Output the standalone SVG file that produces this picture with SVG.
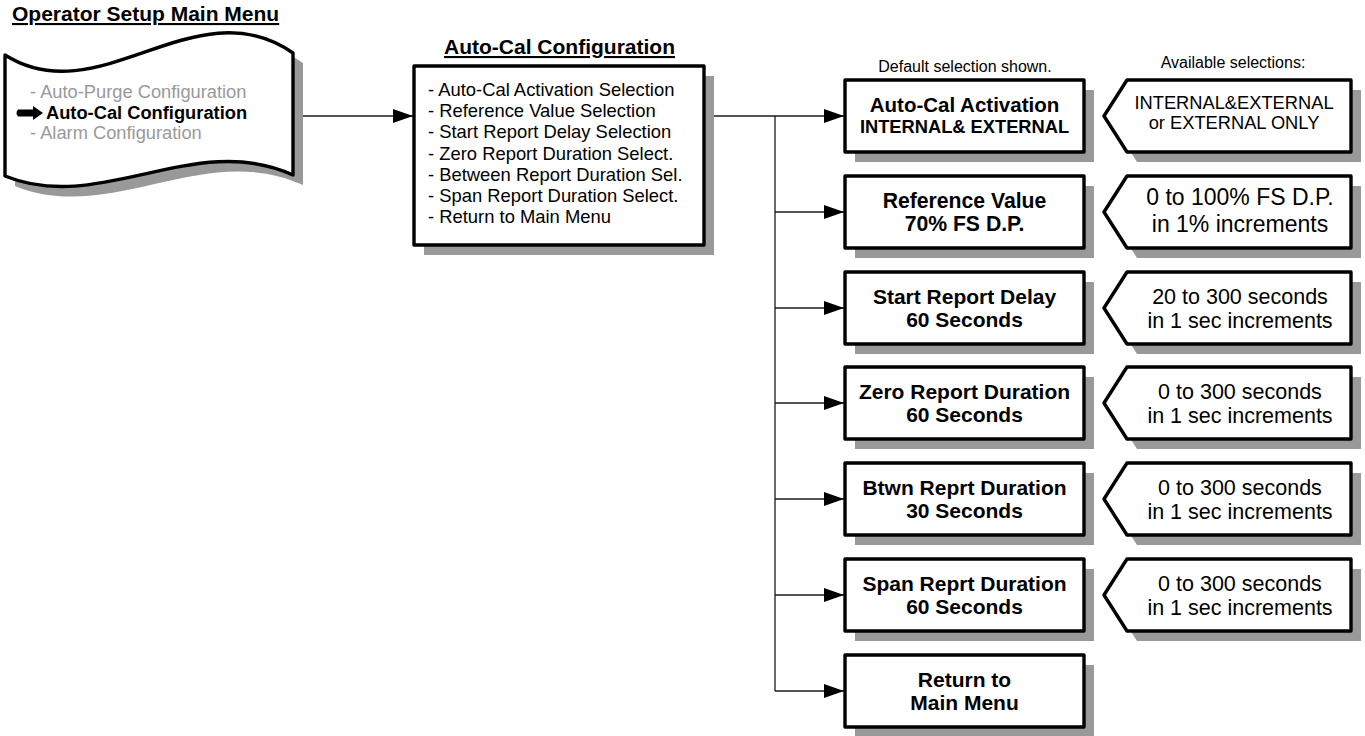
<svg xmlns="http://www.w3.org/2000/svg" width="1365" height="736" viewBox="0 0 1365 736">
<defs>
<style>
.t{font-family:"Liberation Sans",Arial,sans-serif;fill:#000}
.b{font-weight:bold}
.g{fill:#999999}
.box{fill:#fff;stroke:#000;stroke-width:3.4;stroke-linejoin:round}
.sh{fill:#999999;stroke:none}
.ln{fill:none;stroke:#1a1a1a;stroke-width:1.3}
.mid{text-anchor:middle}
</style>
<marker id="ah" markerUnits="userSpaceOnUse" markerWidth="20" markerHeight="14" refX="20" refY="7" orient="auto">
<path d="M0,0 L20,7 L0,14 Z" fill="#000"/>
</marker>
</defs>
<rect width="1365" height="736" fill="#fff"/>

<text class="t b" x="12" y="21" font-size="21" text-decoration="underline">Operator Setup Main Menu</text>
<text class="t b mid" x="559.5" y="54" font-size="21" text-decoration="underline">Auto-Cal Configuration</text>
<text class="t mid" x="965" y="72" font-size="16">Default selection shown.</text>
<text class="t mid" x="1233" y="68" font-size="16">Available selections:</text>

<g id="connectors">
<line class="ln" x1="293" y1="116" x2="413" y2="116" marker-end="url(#ah)"/>
<line class="ln" x1="704" y1="116" x2="844" y2="116" marker-end="url(#ah)"/>
<line class="ln" x1="775" y1="116" x2="775" y2="691"/>
<line class="ln" x1="775" y1="212" x2="844" y2="212" marker-end="url(#ah)"/>
<line class="ln" x1="775" y1="308" x2="844" y2="308" marker-end="url(#ah)"/>
<line class="ln" x1="775" y1="403" x2="844" y2="403" marker-end="url(#ah)"/>
<line class="ln" x1="775" y1="499" x2="844" y2="499" marker-end="url(#ah)"/>
<line class="ln" x1="775" y1="595" x2="844" y2="595" marker-end="url(#ah)"/>
<line class="ln" x1="775" y1="691" x2="844" y2="691" marker-end="url(#ah)"/>
</g>

<g id="main-menu">
<path class="sh" transform="translate(10,10)" d="M5,55 C100,115 195,-15 293,53 L293,175 C195,130 100,215 5,176 Z"/>
<path class="box" d="M5,55 C100,115 195,-15 293,53 L293,175 C195,130 100,215 5,176 Z"/>
<text class="t g" x="30" y="98" font-size="18.3">- Auto-Purge Configuration</text>
<path d="M18,109.5 L33,109.5 L33,106 L43,113 L33,120 L33,116.5 L18,116.5 Q15,113 18,109.5 Z" fill="#000"/>
<text class="t b" x="46" y="119" font-size="18.3">Auto-Cal Configuration</text>
<text class="t g" x="30" y="139" font-size="18.3">- Alarm Configuration</text>
</g>

<g id="autocal-config">
<rect class="sh" x="424" y="76" width="290" height="179"/>
<rect class="box" x="414" y="66" width="290" height="179"/>
<g class="t" font-size="18.4">
<text x="428" y="96">- Auto-Cal Activation Selection</text>
<text x="428" y="117.2">- Reference Value Selection</text>
<text x="428" y="138.4">- Start Report Delay Selection</text>
<text x="428" y="159.6">- Zero Report Duration Select.</text>
<text x="428" y="180.8">- Between Report Duration Sel.</text>
<text x="428" y="202">- Span Report Duration Select.</text>
<text x="428" y="223.2">- Return to Main Menu</text>
</g>
</g>

<g id="activation">
<rect class="sh" x="855" y="90" width="239" height="72"/>
<rect class="box" x="845" y="80" width="239" height="72"/>
<text class="t b mid" x="964.5" y="112" font-size="20.5">Auto-Cal Activation</text>
<text class="t b mid" x="964.5" y="133" font-size="18.3">INTERNAL&amp; EXTERNAL</text>
</g>
<g id="activation-options">
<path class="sh" transform="translate(10,10)" d="M1104,116 L1127,80 L1351,80 L1351,152 L1127,152 Z"/>
<path class="box" d="M1104,116 L1127,80 L1351,80 L1351,152 L1127,152 Z"/>
<text class="t mid" x="1234" y="109" font-size="18.3">INTERNAL&amp;EXTERNAL</text>
<text class="t mid" x="1234" y="129" font-size="18.3">or EXTERNAL ONLY</text>
</g>

<g id="reference">
<rect class="sh" x="855" y="186" width="239" height="72"/>
<rect class="box" x="845" y="176" width="239" height="72"/>
<text class="t b mid" x="964.5" y="208" font-size="21.2">Reference Value</text>
<text class="t b mid" x="964.5" y="231" font-size="21.2">70% FS D.P.</text>
</g>
<g id="reference-options">
<path class="sh" transform="translate(10,10)" d="M1104,212 L1127,176 L1351,176 L1351,248 L1127,248 Z"/>
<path class="box" d="M1104,212 L1127,176 L1351,176 L1351,248 L1127,248 Z"/>
<text class="t mid" x="1240" y="205" font-size="23">0 to 100% FS D.P.</text>
<text class="t mid" x="1240" y="232" font-size="23">in 1% increments</text>
</g>

<g id="start-delay">
<rect class="sh" x="855" y="282" width="239" height="72"/>
<rect class="box" x="845" y="272" width="239" height="72"/>
<text class="t b mid" x="964.5" y="304" font-size="21">Start Report Delay</text>
<text class="t b mid" x="964.5" y="327" font-size="21">60 Seconds</text>
</g>
<g id="start-delay-options">
<path class="sh" transform="translate(10,10)" d="M1104,308 L1127,272 L1351,272 L1351,344 L1127,344 Z"/>
<path class="box" d="M1104,308 L1127,272 L1351,272 L1351,344 L1127,344 Z"/>
<text class="t mid" x="1240" y="304" font-size="21.5">20 to 300 seconds</text>
<text class="t mid" x="1240" y="328" font-size="21.5">in 1 sec increments</text>
</g>

<g id="zero-duration">
<rect class="sh" x="855" y="377" width="239" height="72"/>
<rect class="box" x="845" y="367" width="239" height="72"/>
<text class="t b mid" x="964.5" y="399" font-size="21">Zero Report Duration</text>
<text class="t b mid" x="964.5" y="422" font-size="21">60 Seconds</text>
</g>
<g id="zero-duration-options">
<path class="sh" transform="translate(10,10)" d="M1104,403 L1127,367 L1351,367 L1351,439 L1127,439 Z"/>
<path class="box" d="M1104,403 L1127,367 L1351,367 L1351,439 L1127,439 Z"/>
<text class="t mid" x="1240" y="399" font-size="21.5">0 to 300 seconds</text>
<text class="t mid" x="1240" y="423" font-size="21.5">in 1 sec increments</text>
</g>

<g id="between-duration">
<rect class="sh" x="855" y="473" width="239" height="72"/>
<rect class="box" x="845" y="463" width="239" height="72"/>
<text class="t b mid" x="964.5" y="495" font-size="21">Btwn Reprt Duration</text>
<text class="t b mid" x="964.5" y="518" font-size="21">30 Seconds</text>
</g>
<g id="between-duration-options">
<path class="sh" transform="translate(10,10)" d="M1104,499 L1127,463 L1351,463 L1351,535 L1127,535 Z"/>
<path class="box" d="M1104,499 L1127,463 L1351,463 L1351,535 L1127,535 Z"/>
<text class="t mid" x="1240" y="495" font-size="21.5">0 to 300 seconds</text>
<text class="t mid" x="1240" y="519" font-size="21.5">in 1 sec increments</text>
</g>

<g id="span-duration">
<rect class="sh" x="855" y="569" width="239" height="72"/>
<rect class="box" x="845" y="559" width="239" height="72"/>
<text class="t b mid" x="964.5" y="591" font-size="21">Span Reprt Duration</text>
<text class="t b mid" x="964.5" y="614" font-size="21">60 Seconds</text>
</g>
<g id="span-duration-options">
<path class="sh" transform="translate(10,10)" d="M1104,595 L1127,559 L1351,559 L1351,631 L1127,631 Z"/>
<path class="box" d="M1104,595 L1127,559 L1351,559 L1351,631 L1127,631 Z"/>
<text class="t mid" x="1240" y="591" font-size="21.5">0 to 300 seconds</text>
<text class="t mid" x="1240" y="615" font-size="21.5">in 1 sec increments</text>
</g>

<g id="return-main">
<rect class="sh" x="855" y="665" width="239" height="72"/>
<rect class="box" x="845" y="655" width="239" height="72"/>
<text class="t b mid" x="964.5" y="687" font-size="21">Return to</text>
<text class="t b mid" x="964.5" y="710" font-size="21">Main Menu</text>
</g>
</svg>
